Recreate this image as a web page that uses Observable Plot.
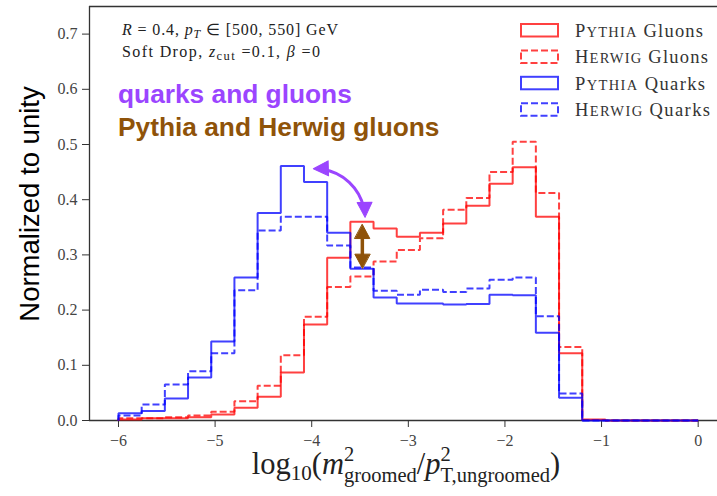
<!DOCTYPE html>
<html>
<head>
<meta charset="utf-8">
<script src="https://cdn.jsdelivr.net/npm/d3@7"></script>
<script src="https://cdn.jsdelivr.net/npm/@observablehq/plot@0.6"></script>
<style>
html, body { margin: 0; padding: 0; background: #fff; overflow: hidden; }
#wrap { position: relative; width: 717px; height: 496px; }
#wrap svg.ov { position: absolute; left: 0; top: 0; pointer-events: none; }
#wrap svg text { white-space: pre; }
</style>
</head>
<body>
<div id="wrap"></div>
<script>
// ---------------- data ----------------
const binStart = -6, binEnd = 0, binCount = 25;
const pythiaGluons = [0.002, 0.004, 0.004, 0.006, 0.011, 0.023, 0.043, 0.087, 0.174, 0.295, 0.360, 0.348, 0.333, 0.340, 0.357, 0.389, 0.429, 0.459, 0.369, 0.122, 0.002, 0, 0, 0, 0];
const herwigGluons = [0.004, 0.004, 0.006, 0.009, 0.016, 0.035, 0.063, 0.118, 0.188, 0.242, 0.261, 0.288, 0.309, 0.330, 0.382, 0.403, 0.450, 0.505, 0.412, 0.133, 0.001, 0, 0, 0, 0];
const pythiaQuarks = [0.013, 0.017, 0.040, 0.078, 0.143, 0.259, 0.376, 0.461, 0.432, 0.340, 0.275, 0.223, 0.212, 0.212, 0.210, 0.211, 0.228, 0.227, 0.159, 0.041, 0, 0, 0, 0, 0];
const herwigQuarks = [0.009, 0.029, 0.065, 0.089, 0.122, 0.236, 0.344, 0.369, 0.369, 0.317, 0.277, 0.235, 0.228, 0.237, 0.233, 0.239, 0.255, 0.259, 0.189, 0.049, 0, 0, 0, 0, 0];
const generatorNames = ["Pythia", "Herwig", "Pythia", "Herwig"];
const particleNames = ["Gluons", "Gluons", "Quarks", "Quarks"];
const xTicks = [-6, -5, -4, -3, -2, -1, 0];
const yTicks = [0, 0.1, 0.2, 0.3, 0.4, 0.5, 0.6, 0.7];
const xDomain = [-6.3, 0.2];
const yDomain = [0, 0.75];
// annotation arrows (data coordinates)
const arcArrow = {x1: -3.983, y1: 0.456, x2: -3.448, y2: 0.368};
const diffArrow = {x: -3.476, y1: 0.355, y2: 0.276};

// ---------------- styles ----------------
const W = 717, H = 496, mL = 89, mR = 0, mT = 6, mB = 76;
const red = "#ff0000", blue = "#0000ff";
const purple = "#9b45ff", brown = "#8f5309";
const serif = "'Liberation Serif', 'Times New Roman', serif";
const sans = "'Liberation Sans', Arial, sans-serif";
const seriesVals = [pythiaGluons, herwigGluons, pythiaQuarks, herwigQuarks];
const seriesColor = [red, red, blue, blue];
const seriesDash = [null, "7,3", null, "7,3"];
const legendWidths = [128, 133, 130, 135];

const edges = d3.range(binCount + 1).map(i => binStart + i * (binEnd - binStart) / binCount);
function steps(vals) {
  const pts = [[edges[0], 0]];
  vals.forEach((v, i) => pts.push([edges[i], v]));
  pts.push([edges[binCount], vals[binCount - 1]]);
  pts.push([edges[binCount], 0]);
  return pts;
}

const pxX = (W - mL - mR) / (xDomain[1] - xDomain[0]);
const pxY = (H - mT - mB) / (yDomain[1] - yDomain[0]);
const bend = 45;
const chord = Math.atan2((arcArrow.y1 - arcArrow.y2) * pxY, (arcArrow.x2 - arcArrow.x1) * pxX) * 180 / Math.PI;
const purpleHeads = [
  {x: arcArrow.x1, y: arcArrow.y1, rotate: chord - bend + 270},
  {x: arcArrow.x2, y: arcArrow.y2, rotate: chord + bend + 90}
];
const brownHeads = [
  {x: diffArrow.x, y: diffArrow.y1, rotate: 0},
  {x: diffArrow.x, y: diffArrow.y2, rotate: 180}
];
const triangleShape = {
  draw(context, l, r) {
    context.moveTo(0, -l);
    context.lineTo(r, 0);
    context.lineTo(-r, 0);
    context.closePath();
  }
};

const lineMarks = seriesVals.map((vals, i) => Plot.line(steps(vals), {
  x: d => d[0], y: d => d[1], curve: "step-after",
  stroke: seriesColor[i], strokeOpacity: 0.75, strokeWidth: 2,
  strokeDasharray: seriesDash[i] || undefined, strokeLinejoin: "miter", strokeLinecap: "butt"
}));

const chart = Plot.plot({
  width: W, height: H,
  marginLeft: mL, marginRight: mR, marginTop: mT, marginBottom: mB,
  style: {fontFamily: serif, fontSize: "16px", color: "#333", background: "#fff"},
  x: {domain: xDomain},
  y: {domain: yDomain},
  marks: [
    Plot.ruleY([yDomain[0], yDomain[1]], {stroke: "#333", strokeWidth: 1.3}),
    Plot.ruleX([xDomain[0]], {stroke: "#333", strokeWidth: 1.3}),
    Plot.axisX({ticks: xTicks, tickFormat: d3.format("d"), tickSize: 7, tickPadding: 7, label: null, stroke: "#333", fill: "#444"}),
    Plot.axisY({ticks: yTicks, tickFormat: d3.format(".1f"), tickSize: 7, tickPadding: 5, label: null, stroke: "#333", fill: "#444"}),
    ...lineMarks,
    Plot.arrow([arcArrow], {x1: "x1", y1: "y1", x2: "x2", y2: "y2", bend: bend, headLength: 0,
      stroke: purple, strokeWidth: 3, insetStart: 9, insetEnd: 9}),
    Plot.vector(purpleHeads, {x: "x", y: "y", rotate: "rotate", length: 15, r: 7.5, anchor: "end",
      shape: triangleShape, fill: purple, stroke: purple, strokeWidth: 1}),
    Plot.arrow([diffArrow], {x1: "x", y1: "y1", x2: "x", y2: "y2", headLength: 0,
      stroke: brown, strokeWidth: 3.5, insetStart: 9, insetEnd: 9}),
    Plot.vector(brownHeads, {x: "x", y: "y", rotate: "rotate", length: 14, r: 7.5, anchor: "end",
      shape: triangleShape, fill: brown, stroke: brown, strokeWidth: 1})
  ]
});
const wrap = d3.select("#wrap");
wrap.node().appendChild(chart);

// ---------------- overlay texts ----------------
const ov = wrap.append("svg").attr("class", "ov").attr("width", W).attr("height", H);

// top-left physics info
const t1 = ov.append("text").attr("x", 122).attr("y", 35).attr("font-family", serif).attr("font-size", 16)
  .attr("fill", "#222").attr("textLength", 216).attr("lengthAdjust", "spacing");
t1.append("tspan").attr("font-style", "italic").text("R");
t1.append("tspan").text(" = 0.4, ");
t1.append("tspan").attr("font-style", "italic").text("p");
t1.append("tspan").attr("font-style", "italic").attr("font-size", 12).attr("dy", 3).text("T");
t1.append("tspan").attr("dy", -3).text(" ∈ [500, 550] GeV");

const t2 = ov.append("text").attr("x", 122).attr("y", 57).attr("font-family", serif).attr("font-size", 16)
  .attr("fill", "#222").attr("textLength", 198).attr("lengthAdjust", "spacing");
t2.append("tspan").text("Soft Drop, ");
t2.append("tspan").attr("font-style", "italic").text("z");
t2.append("tspan").attr("font-size", 12.5).attr("dy", 3).text("cut");
t2.append("tspan").attr("dy", -3).text(" =0.1, ");
t2.append("tspan").attr("font-style", "italic").text("β");
t2.append("tspan").text(" =0");

ov.append("text").attr("x", 118).attr("y", 103).attr("font-family", sans).attr("font-weight", "bold")
  .attr("font-size", 26.3).attr("fill", purple).text("quarks and gluons");
ov.append("text").attr("x", 118).attr("y", 136).attr("font-family", sans).attr("font-weight", "bold")
  .attr("font-size", 26.3).attr("fill", brown).text("Pythia and Herwig gluons");

// legend
generatorNames.forEach((g, i) => {
  const top = 24 + i * 26.4;
  ov.append("rect").attr("x", 521).attr("y", top).attr("width", 37).attr("height", 12.5)
    .attr("fill", "none").attr("stroke", seriesColor[i]).attr("stroke-opacity", 0.75).attr("stroke-width", 2)
    .attr("stroke-dasharray", seriesDash[i]);
  const t = ov.append("text").attr("x", 575).attr("y", top + 12.8).attr("font-family", serif)
    .attr("font-size", 18.5).attr("fill", "#333")
    .attr("textLength", legendWidths[i]).attr("lengthAdjust", "spacing");
  t.append("tspan").text(g.slice(0, 1).toUpperCase());
  t.append("tspan").attr("font-size", 14.5).text(g.slice(1).toUpperCase());
  t.append("tspan").text(" " + particleNames[i]);
});

// y title
ov.append("text").attr("transform", "translate(39,204) rotate(-90)").attr("text-anchor", "middle")
  .attr("font-family", sans).attr("font-size", 27.5).attr("fill", "#000").text("Normalized to unity");

// x title
const xl = ov.append("text").attr("x", 406).attr("y", 474).attr("text-anchor", "middle")
  .attr("font-family", serif).attr("font-size", 30.5).attr("fill", "#222");
xl.append("tspan").text("log");
xl.append("tspan").attr("font-size", 21).attr("dy", 6).text("10");
xl.append("tspan").attr("dy", -6).text("(");
xl.append("tspan").attr("font-style", "italic").text("m");
xl.append("tspan").attr("font-size", 20.5).attr("dy", -13).text("2");
xl.append("tspan").attr("font-size", 20.5).attr("dx", -10.3).attr("dy", 21).text("groomed");
xl.append("tspan").attr("dy", -8).text("/");
xl.append("tspan").attr("font-style", "italic").text("p");
xl.append("tspan").attr("font-size", 20.5).attr("dy", -13).text("2");
xl.append("tspan").attr("font-size", 20.5).attr("dx", -10.3).attr("dy", 21).text("T,ungroomed");
xl.append("tspan").attr("dy", -8).text(")");
</script>
</body>
</html>
